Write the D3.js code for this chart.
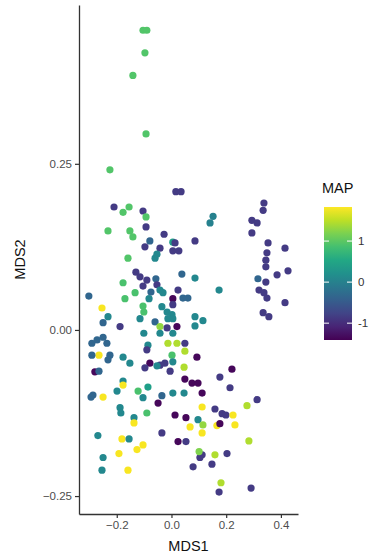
<!DOCTYPE html>
<html>
<head>
<meta charset="utf-8">
<script src="https://cdn.jsdelivr.net/npm/d3@7"></script>
<style>
  body { margin: 0; background: #fff; }
  text { font-family: "Liberation Sans", Arial, sans-serif; }
</style>
</head>
<body>
<div class="mds-chart"></div>
<script>
/*global d3 */

// MDS coordinates
const mds1 = [
  -0.104, -0.090, -0.097, -0.141, -0.093, -0.225, 0.016, 0.035,
  -0.210, -0.177, -0.155, -0.104, -0.093, -0.232, -0.152, -0.141, -0.093, -0.027,
  0.005, 0.013, 0.086, -0.079, -0.097, -0.042, 0.005, 0.027, -0.159, -0.060, -0.053,
  0.152, 0.141, 0.338, 0.335, 0.294, 0.313, 0.294, 0.353, 0.415, 0.349, 0.345,
  0.345, 0.426, 0.386, 0.316, 0.345, 0.320, 0.338, 0.349, 0.415, 0.335, 0.356,
  -0.130, -0.115, -0.104, -0.090, -0.057, -0.053, -0.177, -0.133, -0.170, -0.075,
  -0.042, -0.031, -0.082, 0.038, 0.086, 0.024, 0.060, 0.042, 0.005, 0.174,
  -0.302, -0.254, -0.232, -0.250, -0.188, -0.115, -0.101, -0.104, -0.060, -0.042,
  -0.016, 0.020, -0.035, -0.016, 0.002, 0.005, -0.013, 0.005, 0.086, 0.115, 0.086,
  -0.101, -0.042, 0.005, -0.291, -0.272, -0.250, -0.236, -0.265, -0.291, -0.225,
  -0.232, -0.177, -0.152, -0.086, -0.090, -0.079, -0.013, 0.020, 0.049, 0.049,
  0.002, 0.005, 0.046, 0.093, -0.042, -0.024, -0.005, -0.097, -0.280, -0.265,
  0.221, 0.177, -0.053, 0.049, 0.075, 0.097, 0.112, 0.214, -0.177, -0.177,
  -0.086, -0.122, -0.199, -0.287, -0.294, -0.250, -0.104, -0.035, 0.005, 0.046,
  -0.049, -0.188, -0.185, -0.090, -0.137, -0.137, 0.013, 0.053, 0.068, 0.097,
  0.115, 0.112, 0.112, 0.159, 0.185, 0.199, 0.225, 0.166, 0.177, 0.232, 0.276,
  0.313, -0.035, 0.024, 0.053, -0.269, -0.181, -0.155, -0.104, -0.126, -0.192,
  -0.250, -0.254, -0.159, 0.112, 0.104, 0.101, 0.159, 0.203, 0.283, 0.079,
  0.148, 0.181, 0.174, 0.291
];
const mds2 = [
  0.451, 0.451, 0.417, 0.383, 0.295, 0.241, 0.208, 0.208,
  0.185, 0.177, 0.185, 0.179, 0.170, 0.149, 0.149, 0.140, 0.155, 0.144,
  0.132, 0.131, 0.134, 0.134, 0.125, 0.123, 0.119, 0.119, 0.108, 0.108, 0.114,
  0.171, 0.161, 0.191, 0.180, 0.165, 0.161, 0.146, 0.131, 0.123, 0.116, 0.105,
  0.095, 0.089, 0.083, 0.077, 0.072, 0.060, 0.056, 0.048, 0.041, 0.026, 0.020,
  0.087, 0.080, 0.066, 0.075, 0.077, 0.068, 0.071, 0.056, 0.047, 0.057,
  0.060, 0.056, 0.047, 0.084, 0.078, 0.060, 0.048, 0.048, 0.047, 0.060,
  0.051, 0.033, 0.020, 0.011, 0.005, 0.017, 0.027, 0.036, 0.012, 0.005,
  0.003, 0.005, 0.035, 0.027, 0.023, 0.038, 0.017, 0.017, 0.020, 0.014, 0.006,
  -0.005, -0.005, -0.005, -0.020, -0.015, -0.011, -0.020, -0.038, -0.038, -0.038,
  -0.045, -0.041, -0.050, -0.023, -0.030, -0.050, -0.020, -0.020, -0.020, -0.032,
  -0.038, -0.048, -0.056, -0.041, -0.053, -0.050, -0.062, -0.057, -0.063, -0.062,
  -0.059, -0.071, -0.054, -0.074, -0.080, -0.080, -0.095, -0.087, -0.077, -0.083,
  -0.086, -0.092, -0.092, -0.098, -0.101, -0.101, -0.102, -0.099, -0.095, -0.095,
  -0.110, -0.117, -0.125, -0.125, -0.132, -0.140, -0.128, -0.132, -0.146, -0.135,
  -0.143, -0.116, -0.155, -0.119, -0.126, -0.128, -0.128, -0.144, -0.141, -0.143, -0.114,
  -0.105, -0.155, -0.168, -0.168, -0.159, -0.164, -0.164, -0.173, -0.180, -0.186,
  -0.192, -0.211, -0.211, -0.188, -0.192, -0.183, -0.188, -0.186, -0.167, -0.206,
  -0.202, -0.230, -0.244, -0.238
];
const mapValue = [
  0.95, 0.95, 0.95, 0.95, 0.95, 0.95, -0.85, -0.85,
  -0.85, 0.95, 0.95, -0.85, 0.95, 0.95, 0.95, 0.95, -0.85, -0.85,
  0.4, -0.85, -0.85, -0.35, -0.85, -0.85, -0.85, -0.85, 0.95, 0.1, 0.1,
  0.0, 0.0, -0.85, -0.85, -0.85, -0.85, -0.85, -0.85, -0.85, -0.85, -0.85,
  -0.85, -0.85, -0.85, -0.35, -0.85, -0.85, -0.85, -0.85, -0.85, -0.85, -0.85,
  -0.85, -0.85, -0.85, -0.85, -0.35, -0.85, 0.9, 0.9, 0.9, -0.35,
  0.1, 0.1, 0.1, -0.35, 0.1, -0.85, -0.35, -0.35, -1.35, 0.1,
  -0.35, 1.8, 0.1, -0.35, -0.85, 0.1, 0.9, 0.9, -0.35, 1.3,
  -0.85, -1.35, 0.1, 0.1, 0.1, -0.85, 0.1, 0.1, 0.1, 0.1, 0.1,
  0.1, 0.1, 0.1, -0.35, -0.35, -0.35, -0.35, 1.8, -0.35, -0.35,
  -0.35, 0.1, 0.1, 0.1, -0.85, -1.35, 1.45, 1.45, -0.85, 1.45,
  0.9, 0.1, 1.45, -1.35, -0.85, -0.85, -0.85, -0.85, -1.35, -0.35,
  -1.35, -0.85, 0.1, -1.35, -1.35, -1.35, -1.35, -0.85, 0.1, 1.8,
  0.4, 0.9, 0.1, -0.35, -0.35, 1.8, 0.1, -0.35, 0.1, 0.1,
  -1.35, 0.1, 0.1, 0.9, 0.1, 1.8, -1.35, -1.35, 1.8, 0.1,
  1.3, 1.8, 1.8, -0.85, -0.85, -0.85, 1.8, 1.8, -1.35, 1.8, 1.45,
  -0.85, -0.85, -1.35, -0.85, 0.1, 1.8, 0.1, 1.8, 1.8, 1.8,
  0.1, 0.1, 1.8, -0.85, -0.85, 1.2, 1.45, -0.85, 1.45, -0.85,
  -0.85, 1.45, -0.85, -0.85
];

const xTicks = [-0.2, 0.0, 0.2, 0.4];
const yTicks = [-0.25, 0.00, 0.25];
const legendTicks = [-1, 0, 1];

const points = mds1.map((x, i) => ({x: x, y: mds2[i], v: mapValue[i]}));

const width = 376;
const height = 560;
const margin = {left: 79, right: 78, top: 5, bottom: 46};

const svg = d3.select(".mds-chart").append("svg")
    .attr("width", width)
    .attr("height", height)
    .attr("viewBox", [0, 0, width, height]);

const x = d3.scaleLinear()
    .domain([-0.338, 0.4625])
    .range([margin.left, width - margin.right]);

const y = d3.scaleLinear()
    .domain([-0.277, 0.489])
    .range([height - margin.bottom, margin.top]);

const color = d3.scaleSequential(d3.interpolateViridis)
    .domain([-1.41, 1.83]);

/* points */
svg.append("g")
    .selectAll("circle")
    .data(points)
    .join("circle")
    .attr("cx", d => x(d.x))
    .attr("cy", d => y(d.y))
    .attr("r", 3.6)
    .attr("fill", d => color(d.v));

/* axes */
const xAxis = svg.append("g")
    .attr("transform", `translate(0,${height - margin.bottom})`)
    .call(d3.axisBottom(x).tickValues(xTicks).tickFormat(d3.format(".1f"))
        .tickSize(4).tickSizeOuter(0).tickPadding(3));

const yAxis = svg.append("g")
    .attr("transform", `translate(${margin.left},0)`)
    .call(d3.axisLeft(y).tickValues(yTicks).tickFormat(d3.format(".2f"))
        .tickSize(4).tickSizeOuter(0).tickPadding(3));

[xAxis, yAxis].forEach(ax => {
  ax.select(".domain").attr("stroke", "#333").attr("stroke-width", 1.3);
  ax.selectAll(".tick line").attr("stroke", "#333").attr("stroke-width", 1.2);
  ax.selectAll(".tick text")
      .attr("fill", "#4d4d4d")
      .style("font-size", "11.5px")
      .style("font-family", "'Liberation Sans', Arial, sans-serif");
});

svg.append("text")
    .attr("x", (x.range()[0] + x.range()[1]) / 2)
    .attr("y", 551)
    .attr("text-anchor", "middle")
    .style("font-size", "14.5px")
    .attr("fill", "#111")
    .text("MDS1");

svg.append("text")
    .attr("transform", `translate(25,${(y.range()[0] + y.range()[1]) / 2}) rotate(-90)`)
    .attr("text-anchor", "middle")
    .style("font-size", "14.5px")
    .attr("fill", "#111")
    .text("MDS2");

/* colour bar legend */
const barX = 324, barW = 28, barTop = 207, barBottom = 340;
const legendScale = d3.scaleLinear()
    .domain(color.domain())
    .range([barBottom, barTop]);

const defs = svg.append("defs");
const grad = defs.append("linearGradient")
    .attr("id", "mapGrad")
    .attr("x1", 0).attr("y1", 1).attr("x2", 0).attr("y2", 0);
d3.range(0, 1.0001, 0.1).forEach(t => {
  grad.append("stop")
      .attr("offset", t)
      .attr("stop-color", d3.interpolateViridis(t));
});

svg.append("rect")
    .attr("x", barX)
    .attr("y", barTop)
    .attr("width", barW)
    .attr("height", barBottom - barTop)
    .attr("fill", "url(#mapGrad)");

const lt = svg.append("g").selectAll("g")
    .data(legendTicks)
    .join("g");

lt.append("line")
    .attr("x1", barX).attr("x2", barX + 5)
    .attr("y1", d => legendScale(d)).attr("y2", d => legendScale(d))
    .attr("stroke", "white").attr("stroke-width", 1);
lt.append("line")
    .attr("x1", barX + barW - 5).attr("x2", barX + barW)
    .attr("y1", d => legendScale(d)).attr("y2", d => legendScale(d))
    .attr("stroke", "white").attr("stroke-width", 1);
lt.append("text")
    .attr("x", barX + barW + 6)
    .attr("y", d => legendScale(d))
    .attr("dy", "0.35em")
    .attr("fill", "#333")
    .style("font-size", "11.5px")
    .text(d => d);

svg.append("text")
    .attr("x", barX - 2)
    .attr("y", 193)
    .style("font-size", "14.5px")
    .attr("fill", "#111")
    .text("MAP");
</script>
</body>
</html>
